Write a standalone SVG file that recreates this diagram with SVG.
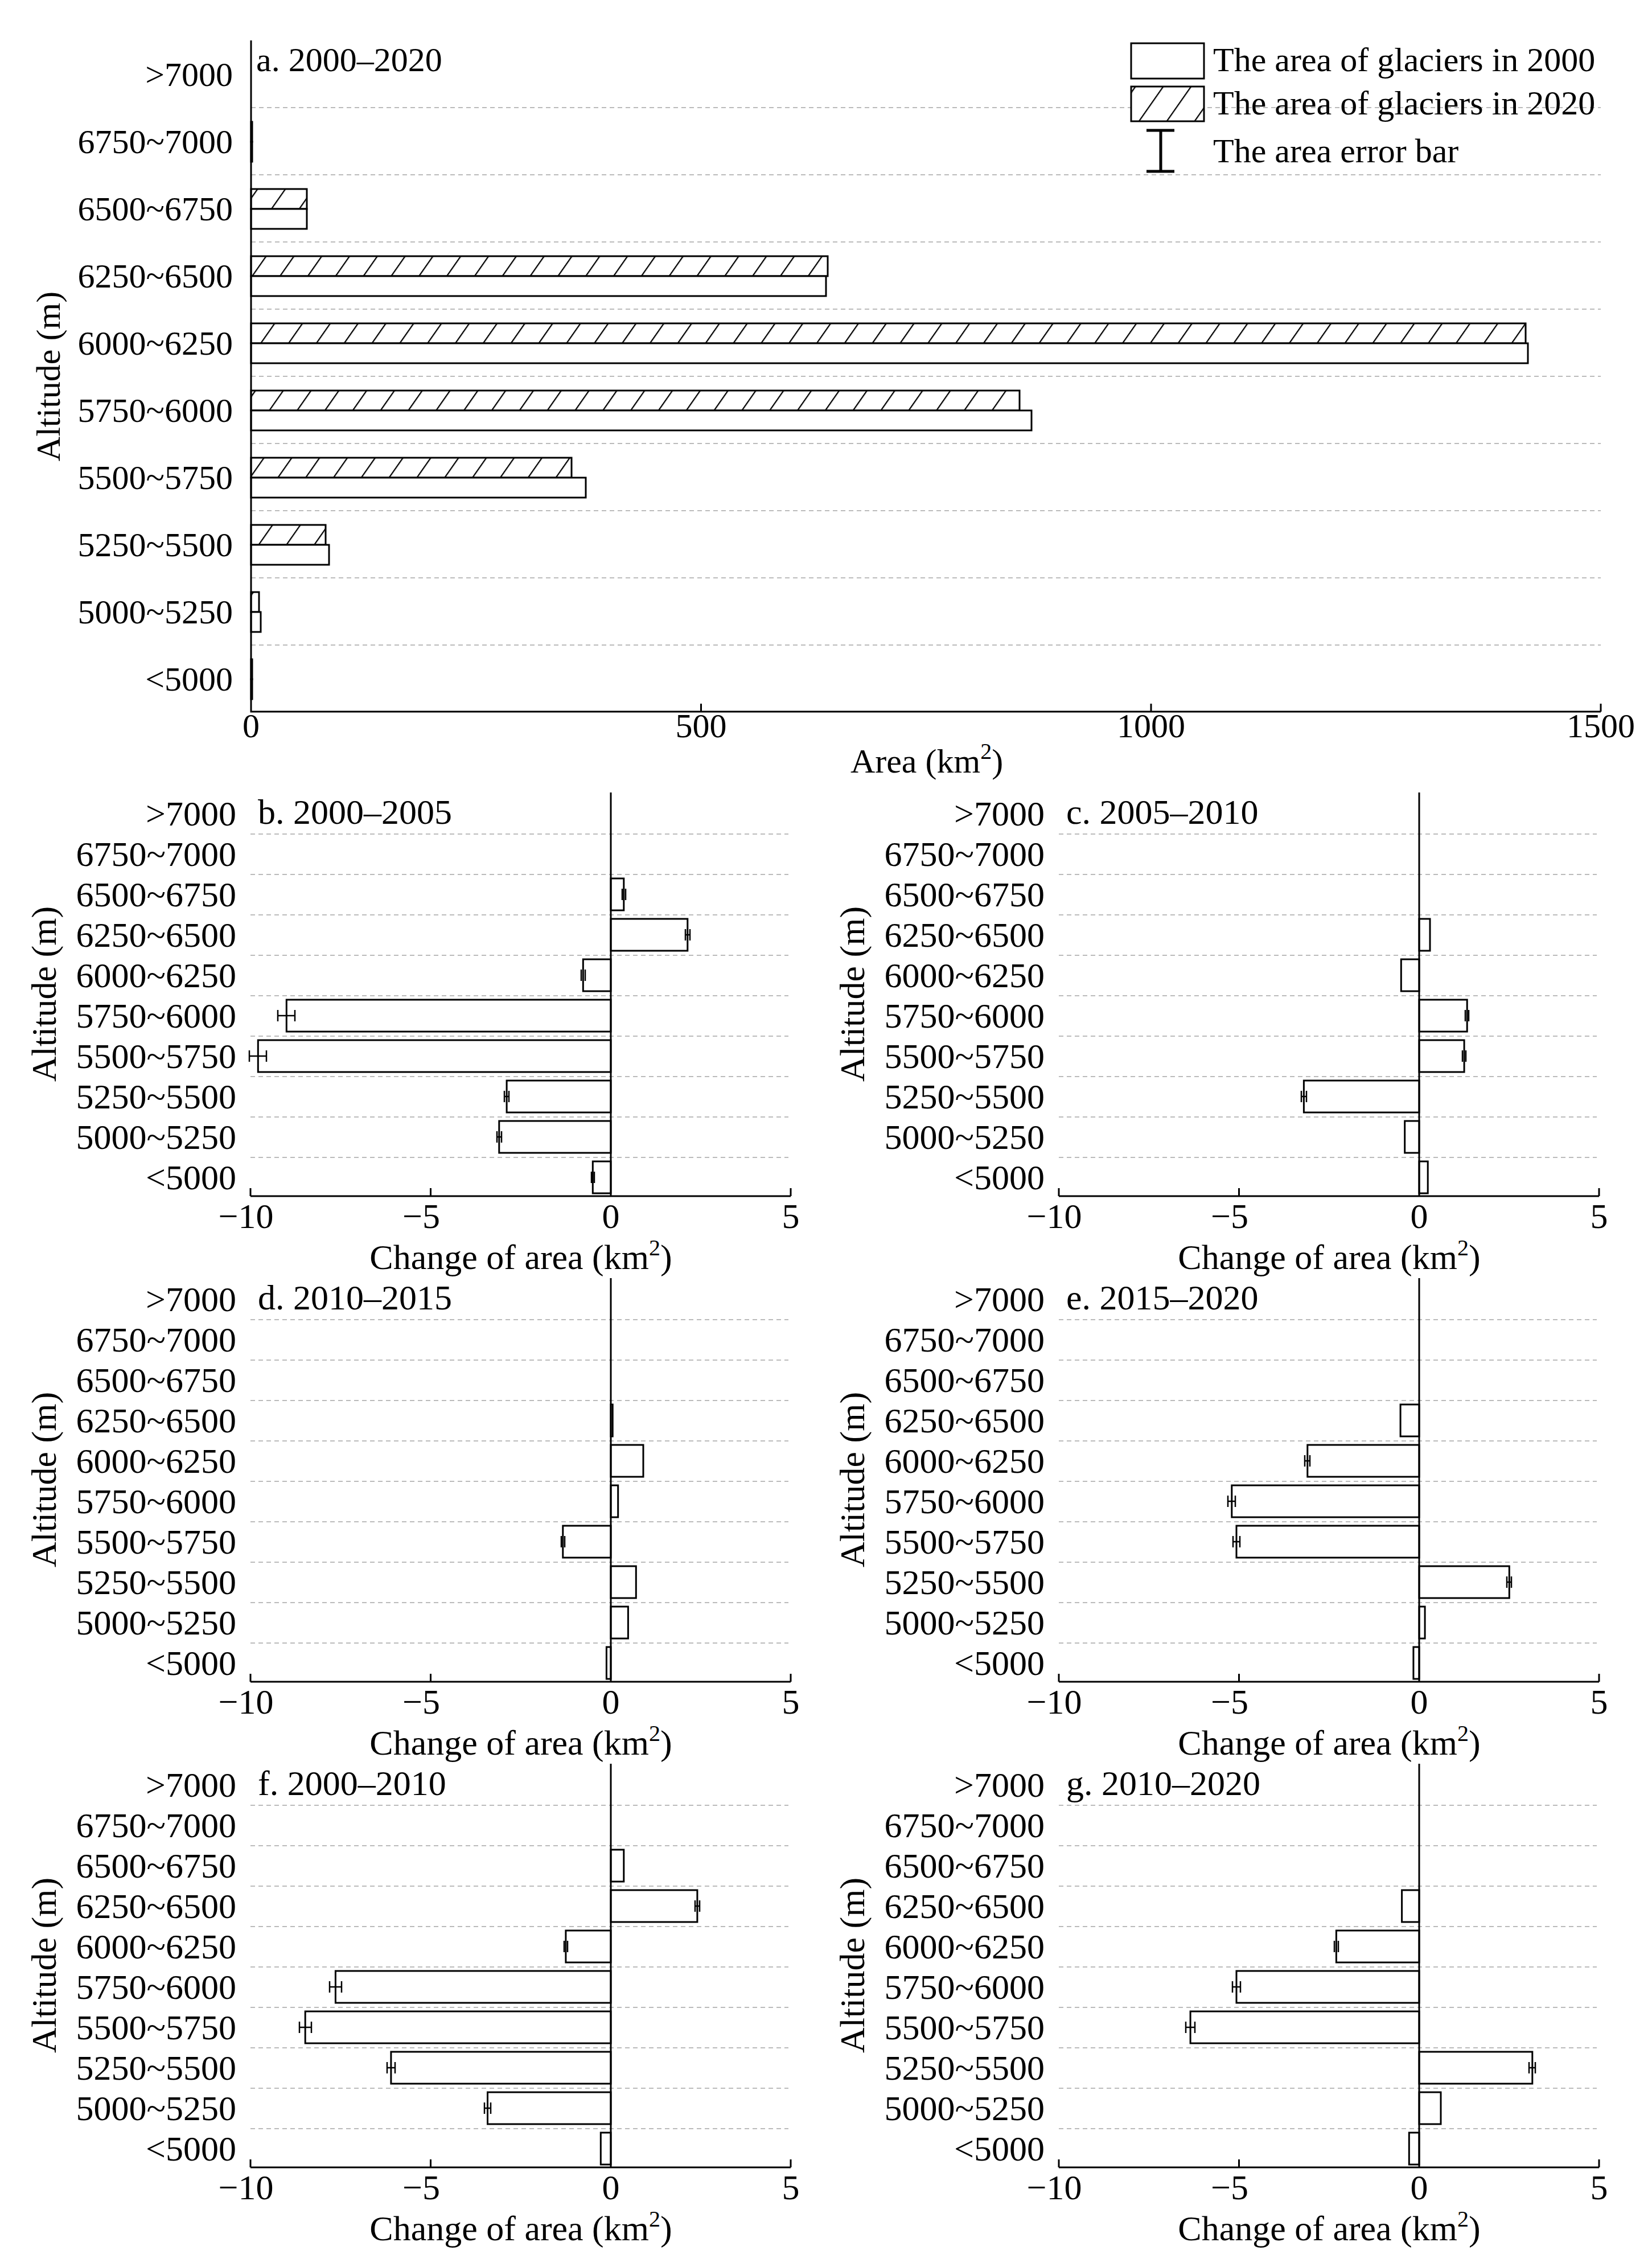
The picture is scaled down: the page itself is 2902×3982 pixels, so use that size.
<svg xmlns="http://www.w3.org/2000/svg" width="2902" height="3982" viewBox="0 0 2902 3982">
<style>
text{font-family:"Liberation Serif","Times New Roman",serif;fill:#000}
.ta{font-size:60px}
.ts{font-size:62px}
.r{text-anchor:end}
.m{text-anchor:middle}
.ax{stroke:#000;stroke-width:3;fill:none}
.gr{stroke:#bbb;stroke-width:2;stroke-dasharray:8 6;fill:none}
.bar{fill:#fff;stroke:#000;stroke-width:3}
.hb{fill:url(#hatch);stroke:#000;stroke-width:3}
.eb{stroke:#000;stroke-width:2.5;fill:none}
</style>
<defs>
<pattern id="hatch" patternUnits="userSpaceOnUse" width="40" height="10" patternTransform="rotate(35)">
<rect width="40" height="10" fill="#fff"/>
<line x1="1" y1="0" x2="1" y2="10" stroke="#000" stroke-width="2.5"/>
</pattern>
<g id="frame">
<path class="gr" d="M440 1465H1385M440 1536H1385M440 1607H1385M440 1678H1385M440 1749H1385M440 1820H1385M440 1891H1385M440 1962H1385M440 2033H1385"/>
<g class="ts r">
<text x="415" y="1450">&gt;7000</text>
<text x="415" y="1521">6750~7000</text>
<text x="415" y="1592">6500~6750</text>
<text x="415" y="1663">6250~6500</text>
<text x="415" y="1734">6000~6250</text>
<text x="415" y="1805">5750~6000</text>
<text x="415" y="1876">5500~5750</text>
<text x="415" y="1947">5250~5500</text>
<text x="415" y="2018">5000~5250</text>
<text x="415" y="2089">&lt;5000</text>
</g>
<g class="ts m">
<text x="432" y="2157">−10</text>
<text x="740" y="2157">−5</text>
<text x="1073" y="2157">0</text>
<text x="1389" y="2157">5</text>
<text x="915" y="2229">Change of area (km<tspan dy="-24" font-size="40">2</tspan><tspan dy="24">)</tspan></text>
</g>
<text class="ts m" transform="translate(98 1746) rotate(-90)">Altitude (m)</text>
</g>
<g id="axes">
<path class="ax" d="M1073 1392V2101M440 2101H1389M440 2101v-14M756.5 2101v-14M1389 2101v-14"/>
</g>
</defs>

<g id="panel-a">
<path class="gr" d="M441 189H2812M441 307H2812M441 425H2812M441 543H2812M441 661H2812M441 779H2812M441 897H2812M441 1015H2812M441 1133H2812"/>
<g class="ta r">
<text x="409" y="151">&gt;7000</text>
<text x="409" y="269">6750~7000</text>
<text x="409" y="387">6500~6750</text>
<text x="409" y="505">6250~6500</text>
<text x="409" y="623">6000~6250</text>
<text x="409" y="741">5750~6000</text>
<text x="409" y="859">5500~5750</text>
<text x="409" y="977">5250~5500</text>
<text x="409" y="1095">5000~5250</text>
<text x="409" y="1213">&lt;5000</text>
</g>
<text class="ta" x="450" y="125">a. 2000–2020</text>
<g>
<rect class="hb" x="441" y="214" width="2" height="35"/><rect class="bar" x="441" y="249" width="2" height="35"/>
<rect class="hb" x="441" y="332" width="98" height="35"/><rect class="bar" x="441" y="367" width="98" height="35"/>
<rect class="hb" x="441" y="450" width="1013" height="35"/><rect class="bar" x="441" y="485" width="1010" height="35"/>
<rect class="hb" x="441" y="568" width="2239" height="35"/><rect class="bar" x="441" y="603" width="2243" height="35"/>
<rect class="hb" x="441" y="686" width="1350" height="35"/><rect class="bar" x="441" y="721" width="1371" height="35"/>
<rect class="hb" x="441" y="804" width="563" height="35"/><rect class="bar" x="441" y="839" width="588" height="35"/>
<rect class="hb" x="441" y="922" width="131" height="35"/><rect class="bar" x="441" y="957" width="137" height="35"/>
<rect class="hb" x="441" y="1040" width="14" height="35"/><rect class="bar" x="441" y="1075" width="17" height="35"/>
<rect class="hb" x="441" y="1158" width="2" height="35"/><rect class="bar" x="441" y="1193" width="2" height="35"/>
</g>
<path class="ax" d="M441 71V1250H2812M1231.5 1250v-14M2022 1250v-14M2812 1250v-14"/>
<g class="ta m">
<text x="441" y="1295">0</text>
<text x="1231.5" y="1295">500</text>
<text x="2022" y="1295">1000</text>
<text x="2812" y="1295">1500</text>
<text x="1628" y="1357">Area (km<tspan dy="-24" font-size="40">2</tspan><tspan dy="24">)</tspan></text>
</g>
<text class="ta m" transform="translate(105 661) rotate(-90)">Altitude (m)</text>
<g id="legend">
<rect class="bar" x="1987" y="76" width="128" height="62"/>
<rect class="hb" x="1987" y="152" width="128" height="61"/>
<path stroke="#000" stroke-width="5" fill="none" d="M2039 229V301M2014 229H2063M2014 301H2063"/>
<text class="ta" x="2131" y="125">The area of glaciers in 2000</text>
<text class="ta" x="2131" y="201">The area of glaciers in 2020</text>
<text class="ta" x="2131" y="285">The area error bar</text>
</g>
</g>

<g id="panel-b">
<use href="#frame"/>
<text class="ts" x="453" y="1447">b. 2000–2005</text>
<rect class="bar" x="1073" y="1543" width="22.8" height="56"/>
<rect class="bar" x="1073" y="1614" width="134.8" height="56"/>
<rect class="bar" x="1024.3" y="1685" width="48.7" height="56"/>
<rect class="bar" x="503.3" y="1756" width="569.7" height="56"/>
<rect class="bar" x="453.3" y="1827" width="619.7" height="56"/>
<rect class="bar" x="890.1" y="1898" width="182.9" height="56"/>
<rect class="bar" x="876.8" y="1969" width="196.2" height="56"/>
<rect class="bar" x="1041.3" y="2040" width="31.7" height="56"/>
<path class="eb" d="M1093 1561v20M1099 1561v20M1204 1632v20M1212 1632v20M1204 1642h8M1021 1703v20M1028 1703v20M488 1774v20M518 1774v20M488 1784h30M438 1845v20M468 1845v20M438 1855h30M886 1916v20M894 1916v20M886 1926h8M873 1987v20M881 1987v20M873 1997h8M1039 2058v20M1044 2058v20"/>
<use href="#axes"/>
</g>

<g id="panel-c" transform="translate(1420 0)">
<use href="#frame"/>
<text class="ts" x="453" y="1447">c. 2005–2010</text>
<rect class="bar" x="1073" y="1614" width="19" height="56"/>
<rect class="bar" x="1041.3" y="1685" width="31.7" height="56"/>
<rect class="bar" x="1073" y="1756" width="84.2" height="56"/>
<rect class="bar" x="1073" y="1827" width="79.1" height="56"/>
<rect class="bar" x="870.4" y="1898" width="202.6" height="56"/>
<rect class="bar" x="1047.7" y="1969" width="25.3" height="56"/>
<rect class="bar" x="1073" y="2040" width="15.2" height="56"/>
<path class="eb" d="M1154 1774v20M1160 1774v20M1149 1845v20M1155 1845v20M866 1916v20M875 1916v20M866 1926h9"/>
<use href="#axes"/>
</g>

<g id="panel-d" transform="translate(0 853)">
<use href="#frame"/>
<text class="ts" x="453" y="1447">d. 2010–2015</text>
<rect class="bar" x="1073" y="1614" width="3.2" height="56"/>
<rect class="bar" x="1073" y="1685" width="57" height="56"/>
<rect class="bar" x="1073" y="1756" width="12.7" height="56"/>
<rect class="bar" x="988.8" y="1827" width="84.2" height="56"/>
<rect class="bar" x="1073" y="1898" width="44.3" height="56"/>
<rect class="bar" x="1073" y="1969" width="30.4" height="56"/>
<rect class="bar" x="1065.4" y="2040" width="7.6" height="56"/>
<path class="eb" d="M986 1845v20M992 1845v20"/>
<use href="#axes"/>
</g>

<g id="panel-e" transform="translate(1420 853)">
<use href="#frame"/>
<text class="ts" x="453" y="1447">e. 2015–2020</text>
<rect class="bar" x="1040.1" y="1614" width="32.9" height="56"/>
<rect class="bar" x="876.8" y="1685" width="196.2" height="56"/>
<rect class="bar" x="743.8" y="1756" width="329.2" height="56"/>
<rect class="bar" x="752" y="1827" width="321" height="56"/>
<rect class="bar" x="1073" y="1898" width="158.3" height="56"/>
<rect class="bar" x="1073" y="1969" width="10.1" height="56"/>
<rect class="bar" x="1062.9" y="2040" width="10.1" height="56"/>
<path class="eb" d="M872 1703v20M881 1703v20M872 1713h9M737 1774v20M750 1774v20M737 1784h13M746 1845v20M758 1845v20M746 1855h12M1227 1916v20M1235 1916v20M1227 1926h8"/>
<use href="#axes"/>
</g>

<g id="panel-f" transform="translate(0 1706)">
<use href="#frame"/>
<text class="ts" x="453" y="1447">f. 2000–2010</text>
<rect class="bar" x="1073" y="1543" width="22.8" height="56"/>
<rect class="bar" x="1073" y="1614" width="151.9" height="56"/>
<rect class="bar" x="993.9" y="1685" width="79.1" height="56"/>
<rect class="bar" x="589.4" y="1756" width="483.6" height="56"/>
<rect class="bar" x="536.2" y="1827" width="536.8" height="56"/>
<rect class="bar" x="686.9" y="1898" width="386.1" height="56"/>
<rect class="bar" x="856.5" y="1969" width="216.5" height="56"/>
<rect class="bar" x="1055.3" y="2040" width="17.7" height="56"/>
<path class="eb" d="M1221 1632v20M1229 1632v20M1221 1642h8M991 1703v20M997 1703v20M579 1774v20M600 1774v20M579 1784h21M526 1845v20M547 1845v20M526 1855h21M680 1916v20M694 1916v20M680 1926h14M851 1987v20M862 1987v20M851 1997h11"/>
<use href="#axes"/>
</g>

<g id="panel-g" transform="translate(1420 1706)">
<use href="#frame"/>
<text class="ts" x="453" y="1447">g. 2010–2020</text>
<rect class="bar" x="1042.6" y="1614" width="30.4" height="56"/>
<rect class="bar" x="927.4" y="1685" width="145.6" height="56"/>
<rect class="bar" x="752" y="1756" width="321" height="56"/>
<rect class="bar" x="671.1" y="1827" width="401.9" height="56"/>
<rect class="bar" x="1073" y="1898" width="198.8" height="56"/>
<rect class="bar" x="1073" y="1969" width="38" height="56"/>
<rect class="bar" x="1055.3" y="2040" width="17.7" height="56"/>
<path class="eb" d="M924 1703v20M931 1703v20M745 1774v20M759 1774v20M745 1784h14M663 1845v20M679 1845v20M663 1855h16M1266 1916v20M1277 1916v20M1266 1926h11"/>
<use href="#axes"/>
</g>
</svg>
